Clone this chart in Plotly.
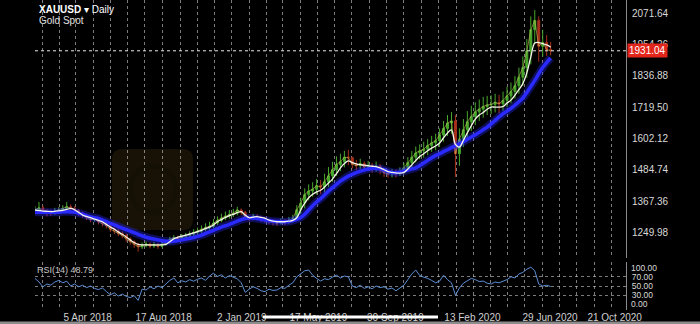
import pandas as pd
import plotly.graph_objects as go

# ---------------- data ----------------
start_date = "2018-01-02"          # first weekly bar
n_weeks = 131

opens = [1330,1335,1342,1328,1324,1322,1330,1334,1340,1346,1341,1333,1320,1316,1305,1298,1300,1290,1283,1275,
         1262,1255,1246,1238,1226,1215,1205,1196,1200,1206,1199,1203,1198,1206,1212,1224,1230,1227,1234,1238,
         1243,1250,1255,1262,1268,1273,1285,1295,1304,1311,1318,1322,1334,1326,1308,1302,1310,1306,1300,1297,
         1290,1287,1285,1292,1289,1296,1302,1335,1360,1392,1405,1412,1425,1420,1440,1462,1485,1505,1515,1532,
         1530,1506,1500,1508,1495,1501,1490,1499,1484,1474,1469,1472,1470,1478,1492,1512,1532,1548,1556,1562,
         1576,1586,1594,1615,1640,1660,1668,1545,1600,1635,1665,1685,1702,1712,1722,1728,1730,1738,1732,1745,
         1762,1778,1800,1832,1868,1930,2010,2045,1948,1962,1936]
closes = [1335,1342,1328,1324,1322,1330,1334,1340,1346,1341,1333,1320,1316,1305,1298,1300,1290,1283,1275,1262,
          1255,1246,1238,1226,1215,1205,1196,1200,1206,1199,1203,1198,1206,1212,1224,1230,1227,1234,1238,1243,
          1250,1255,1262,1268,1273,1285,1295,1304,1311,1318,1322,1334,1326,1308,1302,1310,1306,1300,1297,1290,
          1287,1285,1292,1289,1296,1302,1335,1360,1392,1405,1412,1425,1420,1440,1462,1485,1505,1515,1532,1530,
          1506,1500,1508,1495,1501,1490,1499,1484,1474,1469,1472,1470,1478,1492,1512,1532,1548,1556,1562,1576,
          1586,1594,1615,1640,1660,1668,1545,1600,1635,1665,1685,1702,1712,1722,1728,1730,1738,1732,1745,1762,
          1778,1800,1832,1868,1930,2010,2045,1948,1962,1936,1931]
highs = [1348,1364,1350,1338,1335,1342,1345,1352,1364,1355,1348,1338,1328,1320,1310,1310,1306,1296,1290,1280,
         1268,1262,1254,1245,1232,1220,1210,1212,1216,1212,1214,1210,1216,1222,1234,1240,1238,1244,1248,1254,
         1262,1268,1276,1284,1290,1300,1310,1320,1328,1334,1338,1346,1340,1330,1314,1320,1318,1312,1308,1302,
         1298,1296,1302,1300,1308,1316,1352,1380,1415,1430,1438,1450,1446,1470,1495,1515,1535,1545,1556,1560,
         1534,1522,1526,1516,1518,1510,1516,1506,1492,1486,1488,1486,1494,1510,1532,1555,1572,1580,1590,1600,
         1612,1620,1640,1668,1690,1701,1690,1640,1675,1705,1725,1738,1748,1758,1762,1764,1770,1766,1778,1795,
         1812,1836,1868,1910,1975,2060,2084,2060,2010,1990,1964]
lows = [1318,1328,1320,1310,1312,1316,1322,1326,1332,1330,1322,1312,1305,1296,1288,1290,1280,1272,1265,1252,
        1244,1236,1228,1215,1204,1192,1178,1188,1194,1190,1192,1188,1194,1200,1206,1218,1216,1220,1226,1230,
        1236,1242,1248,1254,1260,1266,1278,1288,1296,1302,1308,1314,1316,1298,1292,1296,1296,1290,1286,1280,
        1276,1274,1280,1278,1282,1288,1296,1318,1340,1370,1384,1392,1394,1400,1420,1440,1462,1480,1494,1502,
        1490,1484,1488,1480,1482,1474,1478,1468,1458,1455,1456,1456,1462,1468,1478,1494,1512,1524,1530,1540,
        1552,1558,1570,1590,1612,1620,1458,1500,1570,1600,1630,1652,1668,1680,1690,1694,1700,1696,1706,1720,
        1734,1752,1770,1800,1830,1880,1960,1890,1910,1912,1914]
ma_fast = [1334,1332,1330,1329,1328,1329,1331,1333,1336,1340,1335,1325,1315,1310,1305,1300,1295,1290,1280,1270,
           1262,1252,1243,1233,1222,1212,1205,1203,1203,1203,1203,1203,1203,1205,1215,1226,1232,1236,1240,1244,
           1248,1253,1258,1264,1270,1278,1290,1298,1306,1313,1318,1324,1328,1315,1305,1307,1309,1306,1303,1296,
           1292,1290,1290,1290,1292,1295,1305,1335,1360,1380,1393,1402,1408,1420,1435,1450,1470,1492,1508,1518,
           1512,1507,1504,1502,1500,1498,1497,1492,1485,1478,1475,1473,1472,1475,1488,1503,1520,1535,1545,1556,
           1566,1574,1585,1605,1623,1634,1580,1570,1595,1623,1650,1675,1690,1700,1712,1720,1720,1720,1722,1735,
           1746,1765,1785,1808,1848,1908,1960,1962,1958,1953,1945]
ma_slow = [1326,1326,1326,1326,1326,1326,1326,1327,1327,1327,1326,1322,1318,1313,1308,1305,1302,1296,1290,1284,
           1278,1272,1266,1260,1255,1249,1243,1237,1232,1228,1225,1222,1219,1217,1216,1217,1219,1222,1225,1228,
           1231,1235,1240,1246,1252,1258,1264,1270,1275,1280,1286,1292,1298,1302,1304,1304,1302,1299,1296,1294,
           1292,1291,1290,1290,1291,1294,1299,1306,1318,1334,1350,1364,1376,1390,1405,1418,1430,1442,1452,1461,
           1468,1474,1480,1484,1488,1490,1490,1489,1485,1479,1475,1474,1476,1480,1484,1488,1492,1500,1510,1520,
           1530,1538,1545,1553,1560,1568,1575,1582,1590,1599,1608,1616,1625,1635,1645,1657,1670,1683,1695,1705,
           1715,1727,1740,1754,1775,1797,1820,1845,1868,1887,1904]
rsi = [66.9,58.9,48.2,54.4,51.8,58.9,62.4,57.1,60.7,50.0,54.4,48.2,51.8,46.4,50.0,44.7,42.0,45.6,37.6,30.4,
       34.9,27.8,32.2,26.9,24.2,28.7,18.0,42.9,41.1,48.2,43.8,50.0,46.4,55.3,62.4,67.8,57.1,61.6,58.9,64.2,
       60.7,65.1,67.8,62.4,72.2,78.4,71.3,74.9,67.8,73.1,69.6,66.0,57.1,35.8,42.9,48.2,44.7,39.3,37.6,42.9,
       40.2,41.1,46.4,44.7,51.8,57.1,70.4,76.7,83.8,85.6,74.0,66.9,61.0,66.0,64.2,69.6,74.0,67.8,72.2,70.4,
       50.0,46.4,51.8,44.7,48.2,43.8,50.0,46.4,48.2,42.9,45.6,39.3,46.4,51.8,64.2,76.7,85.6,73.1,69.6,66.9,
       62.4,57.1,60.7,74.0,64.2,57.1,29.6,45.6,56.2,61.0,66.9,64.2,59.8,61.0,56.2,54.4,58.9,57.1,59.8,64.2,
       70.4,67.8,76.7,80.2,87.3,91.8,83.8,54.4,50.0,51.8,48.79]

last_price = 1931.04
price_ticks = [1249.98, 1367.36, 1484.74, 1602.12, 1719.50, 1836.88, 1954.26, 2071.64]
rsi_grid_ticks = [30, 50, 70]
rsi_edge_labels = ["100.00", "0.00"]
date_ticks = ["2018-04-05", "2018-08-17", "2019-01-02", "2019-05-17", "2019-09-30",
              "2020-02-13", "2020-06-29", "2020-10-21"]
date_labels = ["5 Apr 2018", "17 Aug 2018", "2 Jan 2019", "17 May 2019", "30 Sep 2019",
               "13 Feb 2020", "29 Jun 2020", "21 Oct 2020"]
x_range = ["2018-01-02", "2020-11-10"]
price_range = [1154, 2121.5]
rsi_range = [-3.3, 103.3]

dates = pd.date_range(start_date, periods=n_weeks, freq="7D")

# ---------------- figure ----------------
W, H = 700, 324
def px(x): return x / W
def py(y): return 1 - y / H

FONT = "Liberation Sans, Arial, Helvetica, sans-serif"
GRID = "rgba(205,205,205,0.6)"

fig = go.Figure()
fig.add_trace(go.Candlestick(x=dates, open=opens, high=highs, low=lows, close=closes,
                             increasing=dict(line=dict(color="#46a82c", width=1), fillcolor="#46a82c"),
                             decreasing=dict(line=dict(color="#a8301c", width=1), fillcolor="#a8301c"),
                             whiskerwidth=0, xaxis="x", yaxis="y", hoverinfo="skip"))
fig.add_trace(go.Scatter(x=dates, y=closes, mode="lines",
                         line=dict(color="rgba(200,190,90,0.6)", width=1),
                         xaxis="x", yaxis="y", hoverinfo="skip"))
fig.add_trace(go.Scatter(x=dates, y=ma_slow, mode="lines", line_shape="spline",
                         line=dict(color="rgba(40,40,255,0.35)", width=8),
                         xaxis="x", yaxis="y", hoverinfo="skip"))
fig.add_trace(go.Scatter(x=dates, y=ma_slow, mode="lines", line_shape="spline",
                         line=dict(color="#2a2aff", width=3.5),
                         xaxis="x", yaxis="y", hoverinfo="skip"))
fig.add_trace(go.Scatter(x=dates, y=ma_fast, mode="lines", line_shape="spline",
                         line=dict(color="#f4f4e8", width=1.3),
                         xaxis="x", yaxis="y", hoverinfo="skip"))
fig.add_trace(go.Scatter(x=dates, y=rsi, mode="lines",
                         line=dict(color="#5b8fd6", width=1),
                         xaxis="x2", yaxis="y2", hoverinfo="skip"))

xdom = [px(35), px(626)]
minor = dict(tick0="2018-01-15", dtick="M1", showgrid=True, gridcolor=GRID,
             griddash="dot", gridwidth=1, ticks="")
fig.update_layout(
    template="none",
    width=W, height=H, margin=dict(l=0, r=0, t=0, b=0, autoexpand=False),
    paper_bgcolor="black", plot_bgcolor="black", showlegend=False,
    font=dict(family=FONT, color="#d8d8d8", size=10),
    xaxis=dict(domain=xdom, range=x_range, type="date", showticklabels=False,
               showgrid=False, zeroline=False, ticks="", minor=minor, automargin=False,
               rangeslider=dict(visible=False), anchor="y", showline=False),
    yaxis=dict(domain=[py(258), 1], range=price_range, side="right",
               tickvals=price_ticks, ticktext=[f"{v:.2f}" for v in price_ticks],
               showgrid=False, zeroline=False, ticks="", showline=True, automargin=False,
               linecolor="#8a8a8a", linewidth=1, anchor="x",
               tickfont=dict(size=10, color="#d8d8d8"), ticklabelstandoff=3),
    xaxis2=dict(domain=xdom, range=x_range, type="date", matches="x",
                tickvals=date_ticks, ticktext=date_labels, showgrid=False, automargin=False,
                zeroline=False, ticks="", minor=minor, anchor="y2", showline=False,
                tickfont=dict(size=10, color="#d0d0d0")),
    yaxis2=dict(domain=[py(310), py(262)], range=rsi_range, side="right",
                tickvals=rsi_grid_ticks, ticktext=[f"{v:.2f}" for v in rsi_grid_ticks],
                showgrid=True, gridcolor=GRID, griddash="dot", zeroline=False,
                ticks="", showline=True, linecolor="#8a8a8a", linewidth=1, automargin=False,
                anchor="x2", tickfont=dict(size=8.5, color="#d8d8d8"),
                ticklabelstandoff=3),
)

# RSI edge labels (clamped inside the panel as in the reference)
for txt, yy in zip(rsi_edge_labels, [268, 304]):
    fig.add_annotation(x=px(629), y=py(yy), xref="paper", yref="paper", xanchor="left",
                       yanchor="middle", text=txt, showarrow=False,
                       font=dict(color="#d8d8d8", size=8.5))

# watermark (faint rounded logo box)
x0, x1, y0, y1, r = 112, 193, 149, 230, 10
path = (f"M {px(x0+r)},{py(y0)} L {px(x1-r)},{py(y0)} Q {px(x1)},{py(y0)} {px(x1)},{py(y0+r)} "
        f"L {px(x1)},{py(y1-r)} Q {px(x1)},{py(y1)} {px(x1-r)},{py(y1)} L {px(x0+r)},{py(y1)} "
        f"Q {px(x0)},{py(y1)} {px(x0)},{py(y1-r)} L {px(x0)},{py(y0+r)} Q {px(x0)},{py(y0)} {px(x0+r)},{py(y0)} Z")
fig.add_shape(type="path", xref="paper", yref="paper", path=path,
              fillcolor="rgba(90,68,20,0.26)", line=dict(width=0), layer="below")
fig.add_shape(type="circle", xref="paper", yref="paper",
              x0=px(130), x1=px(176), y0=py(212), y1=py(166),
              fillcolor="rgba(0,0,0,0)", line=dict(width=5, color="rgba(20,15,5,0.45)"), layer="below")

# last price dotted line and label
fig.add_shape(type="line", xref="paper", yref="y", x0=xdom[0], x1=xdom[1],
              y0=last_price, y1=last_price, line=dict(color="#e8e8e8", width=1, dash="dot"))
fig.add_annotation(x=px(627), y=last_price, xref="paper", yref="y", xanchor="left",
                   yanchor="middle", text=f"{last_price:.2f}", showarrow=False,
                   bgcolor="#e3261c", font=dict(color="white", size=10), borderpad=1)

# titles
fig.add_annotation(x=px(37), y=py(9), xref="paper", yref="paper", xanchor="left",
                   yanchor="middle", showarrow=False,
                   text="<b>XAUUSD</b> ▾ Daily", font=dict(color="white", size=10))
fig.add_annotation(x=px(37), y=py(21), xref="paper", yref="paper", xanchor="left",
                   yanchor="middle", showarrow=False,
                   text="Gold Spot", font=dict(color="#e0e0e0", size=10))
fig.add_annotation(x=px(35), y=py(270), xref="paper", yref="paper", xanchor="left",
                   yanchor="middle", showarrow=False,
                   text=f"RSI(14) {rsi[-1]:.2f}", font=dict(color="#c8c8c8", size=9))

# scroll bar overlay and bottom strip
fig.add_shape(type="rect", xref="paper", yref="paper", x0=px(263), x1=px(438),
              y0=py(318.5), y1=py(315.5), fillcolor="white", line=dict(width=0), layer="above")
fig.add_shape(type="rect", xref="paper", yref="paper", x0=0, x1=1,
              y0=0, y1=py(321.5), fillcolor="#8c8c8c", line=dict(width=0), layer="above")

fig.write_html("out.html")
